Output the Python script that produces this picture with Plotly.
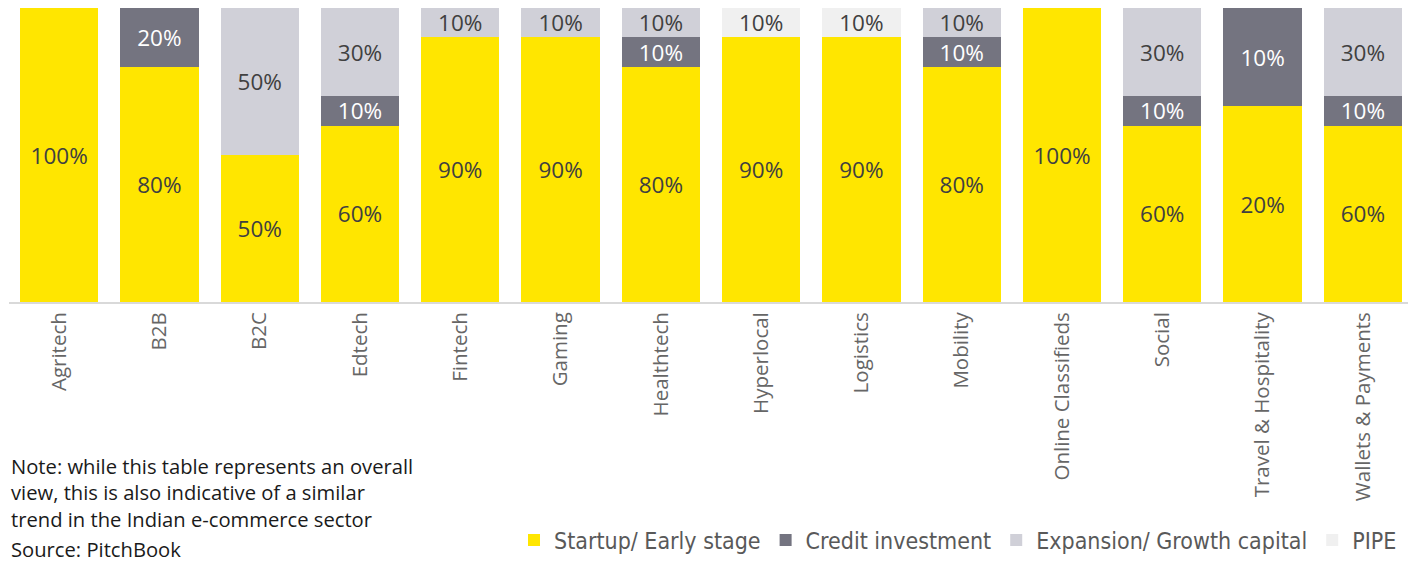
import plotly.graph_objects as go

categories = ["Agritech", "B2B", "B2C", "Edtech", "Fintech", "Gaming", "Healthtech",
              "Hyperlocal", "Logistics", "Mobility", "Online Classifieds", "Social",
              "Travel & Hospitality", "Wallets & Payments"]
startup = [100, 80, 50, 60, 90, 90, 80, 90, 90, 80, 100, 60, 20, 60]
credit = [0, 20, 0, 10, 0, 0, 10, 0, 0, 10, 0, 10, 10, 10]
expansion = [0, 0, 50, 30, 10, 10, 10, 0, 0, 10, 0, 30, 0, 30]
pipe = [0, 0, 0, 0, 0, 0, 0, 10, 10, 0, 0, 0, 0, 0]

note_text = ("Note: while this table represents an overall<br>"
             "view, this is also indicative of a similar<br>"
             "trend in the Indian e-commerce sector")
source_text = "Source: PitchBook"

series = [
    ("Startup/ Early stage", startup, "#FFE600", "#404040"),
    ("Credit investment", credit, "#747480", "#FFFFFF"),
    ("Expansion/ Growth capital", expansion, "#D0D0D8", "#404040"),
    ("PIPE", pipe, "#F0F0F0", "#404040"),
]

fig = go.Figure()
for name, vals, color, tcolor in series:
    fig.add_trace(go.Bar(
        x=categories, y=vals, name=name,
        marker=dict(color=color, line=dict(width=0)),
        text=[f"{v}%" if v else "" for v in vals],
        textposition="inside", insidetextanchor="middle", textangle=0,
        textfont=dict(size=22.5, color=tcolor, family="Open Sans"),
        hoverinfo="skip",
    ))

# page has an 8px body margin, so the figure is drawn 8px in from the top-left
fig.update_layout(
    barmode="stack", barnorm="percent", bargap=0.22,
    width=1408, height=555,
    margin=dict(l=1, r=3, t=0, b=261, autoexpand=False),
    plot_bgcolor="white", paper_bgcolor="white",
    uniformtext=dict(minsize=22, mode="show"),
    showlegend=True,
    legend=dict(orientation="h", x=1 - 11 / 1404, xanchor="right", y=-0.81, yanchor="middle",
                font=dict(size=23, color="#595959",
                          family="Liberation Sans Narrow, DejaVu Sans Condensed, Open Sans"),
                itemwidth=30, traceorder="normal", tracegroupgap=0),
    xaxis=dict(tickangle=-90, tickfont=dict(size=20.5, color="#666666", family="Open Sans"),
               showline=True, linecolor="#D9D9D9", linewidth=2, ticks="", showgrid=False,
               automargin=False),
    yaxis=dict(visible=False, range=[0, 100], showgrid=False, automargin=False),
)

fig.add_annotation(text=note_text, xref="paper", yref="paper", align="left",
                   x=0, xanchor="left", y=(302 - 492) / 294, yanchor="middle",
                   showarrow=False, font=dict(size=20.2, color="#1A1A1A", family="Open Sans"))
fig.add_annotation(text=source_text, xref="paper", yref="paper", align="left",
                   x=0, xanchor="left", y=(302 - 549) / 294, yanchor="middle",
                   showarrow=False, font=dict(size=20.2, color="#1A1A1A", family="Open Sans"))

fig.write_html("out.html")
